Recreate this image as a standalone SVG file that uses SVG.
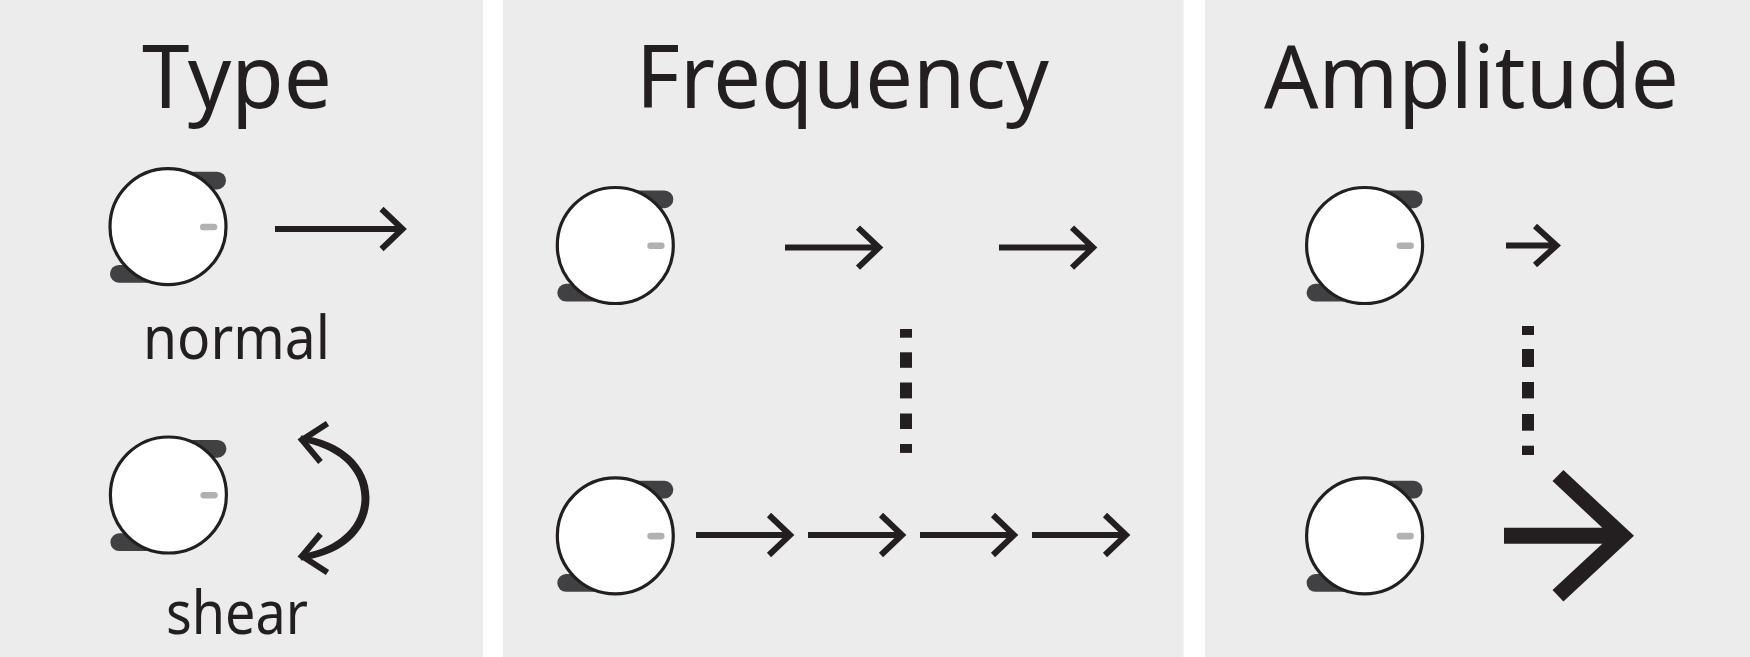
<svg xmlns="http://www.w3.org/2000/svg" xmlns:xlink="http://www.w3.org/1999/xlink" width="1750" height="657" viewBox="0 0 1750 657">
<style>
.panel{fill:#ececec}
.t{font-family:"Noto Sans","Open Sans","Liberation Sans",sans-serif;fill:#231f20}
.title{font-size:88px}
.sub{font-size:60px}
.ln{fill:none;stroke:#231f20;stroke-width:6}
.dot{fill:#231f20}
.pill{fill:#414042}
.mark{fill:#b1b1b4}
.disc{fill:#fff;stroke:#231f20;stroke-width:3.2}
</style>
<defs>
<g id="knob">
<rect class="pill" x="10" y="-55" width="48" height="17.7" rx="8.8"/>
<rect class="pill" x="-58" y="38.3" width="48" height="17.7" rx="8.8"/>
<circle class="disc" r="58"/>
<rect class="mark" x="32" y="-3" width="17.3" height="6.6" rx="3.3"/>
</g>
<g id="head98"><path class="ln" d="M0 0H92M73 -20L94 0L73 20"/></g>
</defs>
<g id="panels">
<rect class="panel" x="0" y="0" width="483" height="657"/>
<rect class="panel" x="503" y="0" width="680.500" height="657"/>
<rect class="panel" x="1205" y="0" width="545" height="657"/>
</g>
<g id="labels">
<text class="t title" x="142" y="108" textLength="190" lengthAdjust="spacingAndGlyphs">Type</text>
<text class="t title" x="636" y="108" textLength="413" lengthAdjust="spacingAndGlyphs">Frequency</text>
<text class="t title" x="1264" y="108" textLength="415" lengthAdjust="spacingAndGlyphs">Amplitude</text>
<text class="t sub" x="143" y="359" textLength="187" lengthAdjust="spacingAndGlyphs">normal</text>
<text class="t sub" x="166" y="634" textLength="142" lengthAdjust="spacingAndGlyphs">shear</text>
</g>
<g id="knob-type-normal"><use xlink:href="#knob" href="#knob" x="168" y="226.700"/></g>
<g id="knob-type-shear"><use xlink:href="#knob" href="#knob" x="168.400" y="495"/></g>
<g id="knob-frequency-top"><use xlink:href="#knob" href="#knob" x="615.300" y="245.500"/></g>
<g id="knob-frequency-bottom"><use xlink:href="#knob" href="#knob" x="615.300" y="535.800"/></g>
<g id="knob-amplitude-top"><use xlink:href="#knob" href="#knob" x="1364.600" y="245.500"/></g>
<g id="knob-amplitude-bottom"><use xlink:href="#knob" href="#knob" x="1364.600" y="535.800"/></g>
<g id="connectors">
<path class="ln" d="M275 229H401M381.500 209L402.500 229L381.500 249"/>
<path class="dot" d="M301 435.500C341 440 369.500 465 369.500 498C369.500 532 341 556 301 560.500L299.500 554.500C335 549 361.500 528 361.500 498C361.500 468 335 447 299.500 441.500Z"/>
<path class="ln" d="M327.500 423.500L302 440L320.500 462M320.500 534L302 556L327.500 572.500" stroke-linejoin="miter"/>
<use xlink:href="#head98" href="#head98" x="785" y="247.600"/>
<use xlink:href="#head98" href="#head98" x="999" y="247.600"/>
<use xlink:href="#head98" href="#head98" x="696" y="535"/>
<use xlink:href="#head98" href="#head98" x="808" y="535"/>
<use xlink:href="#head98" href="#head98" x="920" y="535"/>
<use xlink:href="#head98" href="#head98" x="1032" y="535"/>
<path class="ln" d="M1506 245.500H1555M1535 226L1556.500 245.500L1535 265"/>
<polygon class="dot" points="1504,527.800 1602.300,527.800 1552.500,481 1563.400,470 1634,535.800 1563.400,601.600 1552.500,590 1602.300,543.800 1504,543.800"/>
</g>
<g id="ellipsis-frequency" class="dot">
<rect x="900" y="329" width="12" height="8.700"/>
<rect x="900" y="352.300" width="12" height="15.500"/>
<rect x="900" y="382.500" width="12" height="15.900"/>
<rect x="900" y="413.500" width="12" height="15.500"/>
<rect x="900" y="444" width="12" height="8.900"/>
</g>
<g id="ellipsis-amplitude" class="dot">
<rect x="1522" y="326" width="12" height="9"/>
<rect x="1522" y="349" width="12" height="18"/>
<rect x="1522" y="382" width="12" height="16.400"/>
<rect x="1522" y="414" width="12" height="16.700"/>
<rect x="1522" y="445.700" width="12" height="9.300"/>
</g>
</svg>
